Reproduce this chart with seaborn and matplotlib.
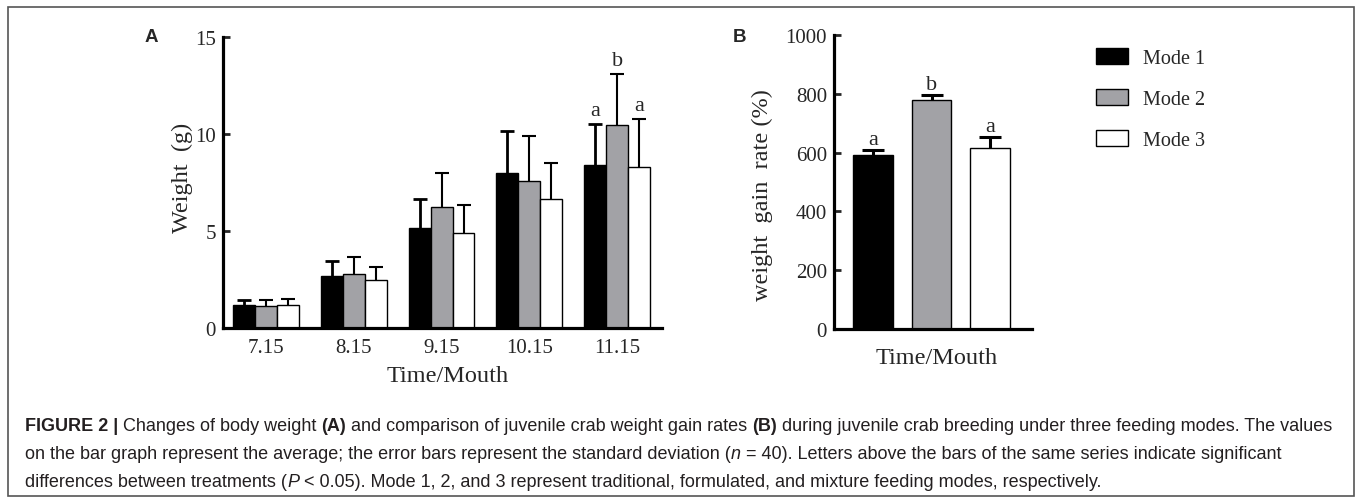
import matplotlib
matplotlib.use("Agg")
import matplotlib.pyplot as plt
import seaborn as sns
import pandas as pd
from matplotlib.patches import Rectangle
from matplotlib.container import BarContainer

# ---------------- data ----------------
months = ["7.15", "8.15", "9.15", "10.15", "11.15"]
modes = ["Mode 1", "Mode 2", "Mode 3"]
weight_mode1 = [1.17, 2.66, 5.14, 7.99, 8.40]
weight_mode2 = [1.13, 2.77, 6.22, 7.56, 10.48]
weight_mode3 = [1.20, 2.46, 4.91, 6.63, 8.32]
sd_mode1 = [0.26, 0.79, 1.53, 2.15, 2.13]
sd_mode2 = [0.30, 0.89, 1.77, 2.34, 2.63]
sd_mode3 = [0.31, 0.70, 1.43, 1.88, 2.47]
letters_a_month = "11.15"
letters_a = ["a", "b", "a"]

gain_rate = [591, 778, 614]
gain_sd = [17, 18, 38]
letters_b = ["a", "b", "a"]

colors = ["#000000", "#a2a2a6", "#ffffff"]

W, H = 1357, 502
sns.set_style("ticks")
plt.rcParams["font.family"] = ["Liberation Serif", "DejaVu Serif"]

fig = plt.figure(figsize=(W / 100, H / 100), dpi=100)
fig.patch.set_facecolor("white")

axA = fig.add_axes([0.1643, 0.3446, 0.3235, 0.5797])
axB = fig.add_axes([0.6146, 0.3426, 0.1459, 0.5857])


def upper_errorbar(ax, x, y, err, lw, cs):
    cont = ax.errorbar([x], [y], yerr=[[0], [err]], fmt="none", ecolor="black",
                       elinewidth=lw, capsize=cs, capthick=lw, zorder=1)
    # hide the cap sitting on the bar top (lower error is zero)
    for cap in cont[1]:
        if abs(cap.get_ydata()[0] - y) < 1e-9:
            cap.set_visible(False)
    return cont


# ---------------- panel A ----------------
dfA = pd.DataFrame({
    "Month": months * 3,
    "Weight": weight_mode1 + weight_mode2 + weight_mode3,
    "Mode": [m for m in modes for _ in months],
})
sds = [sd_mode1, sd_mode2, sd_mode3]
sns.barplot(data=dfA, x="Month", y="Weight", hue="Mode", order=months,
            hue_order=modes, palette=colors, saturation=1, edgecolor="black",
            linewidth=1.0, width=0.75, errorbar=None, legend=False, ax=axA)

bar_conts_A = [c for c in axA.containers if isinstance(c, BarContainer)]
for i, cont in enumerate(bar_conts_A):
    for j, p in enumerate(cont.patches):
        xc = p.get_x() + p.get_width() / 2
        h = p.get_height()
        upper_errorbar(axA, xc, h, sds[i][j], 2.0 if i == 0 else 1.5, 5)
        if months[j] == letters_a_month:
            axA.text(xc, h + sds[i][j] + 0.45, letters_a[i], ha="center",
                     va="baseline", fontsize=16)

axA.set_xlim(-0.49, 4.51)
axA.set_ylim(0, 15)
axA.set_yticks([0, 5, 10, 15])
axA.tick_params(axis="y", direction="in", length=5, width=2, labelsize=15, pad=5)
axA.tick_params(axis="x", length=0, labelsize=15, pad=7)
axA.set_xlabel("Time/Mouth", fontsize=17.5)
axA.set_ylabel("Weight  (g)", fontsize=17.5)
axA.xaxis.set_label_coords(0.512, -0.127)
axA.yaxis.set_label_coords(-0.068, 0.52)
for s in ["top", "right"]:
    axA.spines[s].set_visible(False)
for s in ["left", "bottom"]:
    axA.spines[s].set_linewidth(2.3)
    axA.spines[s].set_color("black")

# ---------------- panel B ----------------
dfB = pd.DataFrame({"Mode": modes, "Rate": gain_rate})
sns.barplot(data=dfB, x="Mode", y="Rate", hue="Mode", order=modes,
            hue_order=modes, palette=colors, saturation=1, edgecolor="black",
            linewidth=1.0, width=0.68, errorbar=None, legend=False,
            dodge=False, ax=axB)
bar_patches_B = []
for c in [c for c in axB.containers if isinstance(c, BarContainer)]:
    for p in c.patches:
        if p.get_height() > 0 and p.get_width() > 0:
            bar_patches_B.append(p)
bar_patches_B.sort(key=lambda p: p.get_x())
for k, p in enumerate(bar_patches_B):
    xc = p.get_x() + p.get_width() / 2
    h = p.get_height()
    upper_errorbar(axB, xc, h, gain_sd[k], 2.2, 8)
    axB.text(xc, h + gain_sd[k] + 22, letters_b[k], ha="center",
             va="baseline", fontsize=16)

axB.set_xlim(-0.67, 2.72)
axB.set_ylim(0, 1000)
axB.set_yticks([0, 200, 400, 600, 800, 1000])
axB.set_xticks([])
axB.tick_params(axis="y", direction="in", length=5, width=2, labelsize=15, pad=5)
axB.set_xlabel("Time/Mouth", fontsize=17.5)
axB.set_ylabel("weight  gain  rate (%)", fontsize=17.5)
axB.xaxis.set_label_coords(0.52, -0.061)
axB.yaxis.set_label_coords(-0.308, 0.459)
for s in ["top", "right"]:
    axB.spines[s].set_visible(False)
for s in ["left", "bottom"]:
    axB.spines[s].set_linewidth(2.3)
    axB.spines[s].set_color("black")

# ---------------- legend ----------------
handles = [c.patches[0] for c in bar_conts_A]
fig.legend(handles=handles, labels=modes, loc="upper left",
           bbox_to_anchor=(1096 / W, 1 - 49 / H), frameon=False,
           fontsize=14.5, handlelength=1.6, handleheight=0.85,
           labelspacing=1.05, handletextpad=0.75, borderpad=0,
           borderaxespad=0)

# ---------------- panel letters ----------------
fig.text(151 / W, 1 - 37 / H, "A", fontsize=13.5, fontweight="bold",
         family="Liberation Sans", ha="center", va="center")
fig.text(739 / W, 1 - 37 / H, "B", fontsize=13.5, fontweight="bold",
         family="Liberation Sans", ha="center", va="center")

# ---------------- frame ----------------
fig.add_artist(Rectangle((8 / W, 1 - 497 / H), (1354 - 8) / W, (497 - 8) / H,
                         transform=fig.transFigure, fill=False,
                         edgecolor="#555555", linewidth=1.2))

# ---------------- caption ----------------
caption_lines = [
    [("FIGURE 2 |", "bold", "normal"), (" Changes of body weight ", "normal", "normal"),
     ("(A)", "bold", "normal"),
     (" and comparison of juvenile crab weight gain rates ", "normal", "normal"),
     ("(B)", "bold", "normal"),
     (" during juvenile crab breeding under three feeding modes. The values", "normal", "normal")],
    [("on the bar graph represent the average; the error bars represent the standard deviation (", "normal", "normal"),
     ("n", "normal", "italic"),
     (" = 40). Letters above the bars of the same series indicate significant", "normal", "normal")],
    [("differences between treatments (", "normal", "normal"), ("P", "normal", "italic"),
     (" < 0.05). Mode 1, 2, and 3 represent traditional, formulated, and mixture feeding modes, respectively.", "normal", "normal")],
]
caption_y = [427, 455, 483]
renderer = fig.canvas.get_renderer()


def text_width(s, size, weight="normal", style="normal"):
    t = fig.text(0, 0, s, fontsize=size, family="Liberation Sans",
                 fontweight=weight, fontstyle=style)
    w = t.get_window_extent(renderer).width
    t.remove()
    return w


def draw_line(runs, x0, y, size, draw=True):
    sw = text_width("a a", size) - text_width("aa", size)
    x = x0
    for s, weight, style in runs:
        l = len(s) - len(s.lstrip(" "))
        r = len(s) - len(s.rstrip(" "))
        core = s.strip(" ")
        x += l * sw
        if draw:
            t = fig.text(x / W, 1 - y / H, core, fontsize=size,
                         family="Liberation Sans", fontweight=weight,
                         fontstyle=style, color="#231f20", va="center", ha="left")
            x += t.get_window_extent(renderer).width
        else:
            x += text_width(core, size, weight, style)
        x += r * sw
    return x


x0 = 25
base = 10.0
end = draw_line(caption_lines[0], x0, caption_y[0], base, draw=False)
size = base * (1340 - x0) / (end - x0)
for runs, y in zip(caption_lines, caption_y):
    draw_line(runs, x0, y, size)

fig.savefig("out.png", dpi=100, facecolor="white")
